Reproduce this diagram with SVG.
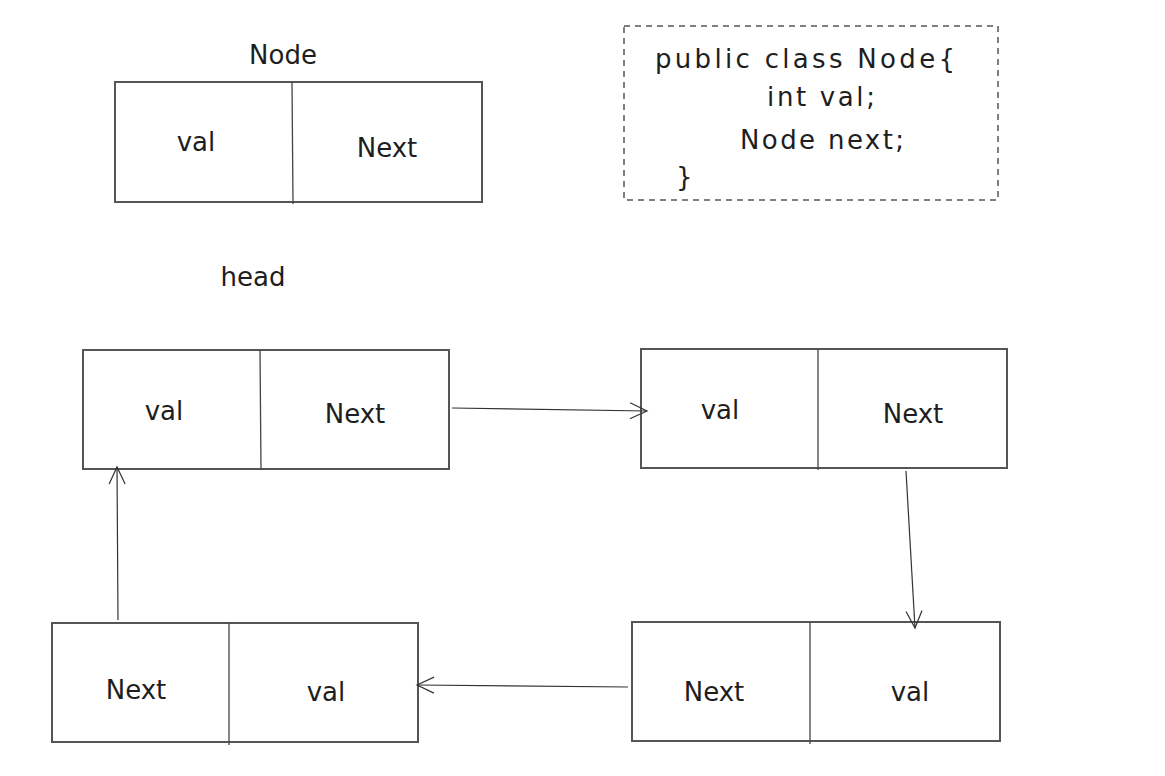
<svg xmlns="http://www.w3.org/2000/svg" width="1165" height="776" viewBox="0 0 1165 776">
<style>
.box{fill:none;stroke:#555;stroke-width:2}
.div{stroke:#444;stroke-width:1.3}
.dash{fill:none;stroke:#555;stroke-width:1.5;stroke-dasharray:6 5}
.t{font-family:"DejaVu Sans","Liberation Sans",sans-serif;font-size:26px;fill:#1e1e1e;text-anchor:middle}
.c{font-family:"DejaVu Sans","Liberation Sans",sans-serif;font-size:26px;fill:#1e1e1e}
.arr{fill:none;stroke:#333;stroke-width:1.2}
</style>
<defs>
<marker id="ah" viewBox="0 0 20 20" refX="18" refY="10" markerWidth="20" markerHeight="20" markerUnits="userSpaceOnUse" orient="auto">
<path d="M1 2 L18 10 L1 18" fill="none" stroke="#333" stroke-width="1.2"/>
</marker>
</defs>
<rect width="1165" height="776" fill="#fff"/>

<g id="node-def">
<text class="t" x="283" y="64">Node</text>
<rect class="box" x="115" y="82" width="367" height="120"/>
<line class="div" x1="292" y1="82" x2="293" y2="204"/>
<text class="t" x="196" y="151">val</text>
<text class="t" x="387" y="157">Next</text>
</g>

<g id="code">
<rect class="dash" x="624" y="26" width="374" height="174"/>
<text class="c" x="655" y="68" textLength="300" lengthAdjust="spacing">public class Node{</text>
<text class="c" x="767" y="106" textLength="108" lengthAdjust="spacing">int val;</text>
<text class="c" x="740" y="149" textLength="164" lengthAdjust="spacing">Node next;</text>
<text class="c" x="676" y="186">}</text>
</g>

<g id="head-label">
<text class="t" x="253" y="286">head</text>
</g>

<g id="nodeA">
<rect class="box" x="83" y="350" width="366" height="119"/>
<line class="div" x1="260" y1="350" x2="261" y2="470"/>
<text class="t" x="164" y="420">val</text>
<text class="t" x="355" y="423">Next</text>
</g>

<g id="nodeB">
<rect class="box" x="641" y="349" width="366" height="119"/>
<line class="div" x1="818" y1="349" x2="818" y2="470"/>
<text class="t" x="720" y="419">val</text>
<text class="t" x="913" y="423">Next</text>
</g>

<g id="nodeC">
<rect class="box" x="52" y="623" width="366" height="119"/>
<line class="div" x1="229" y1="623" x2="229" y2="745"/>
<text class="t" x="136" y="699">Next</text>
<text class="t" x="326" y="701">val</text>
</g>

<g id="nodeD">
<rect class="box" x="632" y="622" width="368" height="119"/>
<line class="div" x1="810" y1="622" x2="810" y2="744"/>
<text class="t" x="714" y="701">Next</text>
<text class="t" x="910" y="701">val</text>
</g>

<g id="connectors">
<path class="arr" d="M452 408 L647 411" marker-end="url(#ah)"/>
<path class="arr" d="M906 471 L915 628" marker-end="url(#ah)"/>
<path class="arr" d="M628 687 L417 685" marker-end="url(#ah)"/>
<path class="arr" d="M118 620 L117 467" marker-end="url(#ah)"/>
</g>
</svg>
